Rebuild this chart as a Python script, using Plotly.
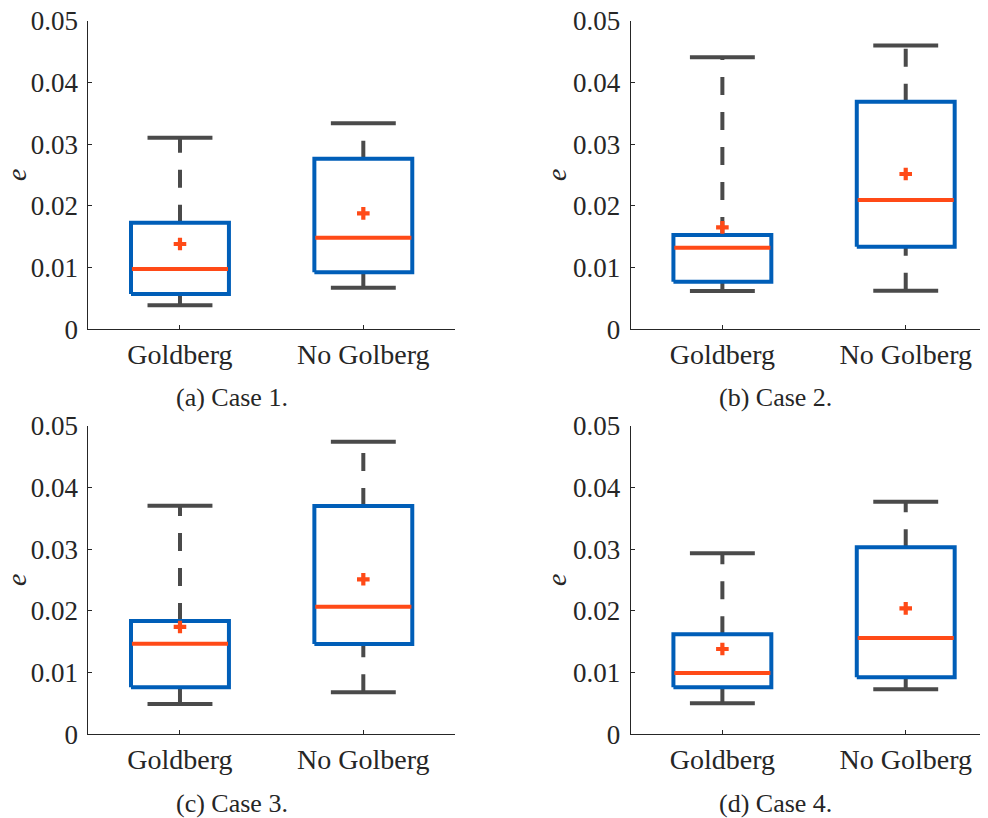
import plotly.graph_objects as go

# ---------------- data ----------------
categories = ["Goldberg", "No Golberg"]
captions = ["(a) Case 1.", "(b) Case 2.", "(c) Case 3.", "(d) Case 4."]
y_tick_vals = [0, 0.01, 0.02, 0.03, 0.04, 0.05]
y_tick_text = ["0", "0.01", "0.02", "0.03", "0.04", "0.05"]

# one row per case, one entry per category
lower_whisker = [[0.00389, 0.00675], [0.00621, 0.00626], [0.00491, 0.00680], [0.00502, 0.00729]]
q1_values = [[0.00572, 0.00923], [0.00772, 0.01339], [0.00761, 0.01463], [0.00761, 0.00923]]
median_values = [[0.00977, 0.01485], [0.01323, 0.02095], [0.01469, 0.02068], [0.00994, 0.01560]]
q3_values = [[0.01728, 0.02765], [0.01528, 0.03688], [0.01836, 0.03699], [0.01620, 0.03029]]
upper_whisker = [[0.03105, 0.03337], [0.04406, 0.04600], [0.03704, 0.04741], [0.02932, 0.03769]]
mean_values = [[0.01382, 0.01879], [0.01652, 0.02516], [0.01739, 0.02511], [0.01382, 0.02041]]

# ---------------- style ----------------
OFF = 8  # page body margin
W, H = 988 - OFF, 818 - OFF
BLUE = "#005EB8"
ORANGE = "#FF4A17"
GRAY = "#4A4A4A"
AXIS = "#262626"
FONT = "Times New Roman"

BOX_HALF = 0.267
CAP_HALF = 0.177
MED_HALF = 0.262

# panel pixel boxes in reference image coords: (x0, x1, ytop, ybottom)
panels = [
    (88.3, 455.0, 20.7, 329.3),
    (630.7, 988.0, 20.7, 329.3),
    (88.3, 455.0, 425.7, 734.3),
    (630.7, 988.0, 425.7, 734.3),
]
PX_PER_UNIT = (455.0 - 88.3) / 2.0

caption_pos = [(232, 397), (775, 397), (232, 803), (775, 803)]
ylabel_pos = [(16, 175), (556, 175), (16, 580), (556, 580)]


def fx(px):
    return (px - OFF) / W


def fy(py):
    return 1 - (py - OFF) / H


fig = go.Figure()
layout = dict(
    width=W, height=H,
    margin=dict(l=0, r=0, t=0, b=0, pad=0, autoexpand=False),
    paper_bgcolor="white", plot_bgcolor="white",
    showlegend=False,
    font=dict(family=FONT, color=AXIS),
    annotations=[],
)

for p, (x0, x1, yt, yb) in enumerate(panels):
    suffix = "" if p == 0 else str(p + 1)
    xa, ya = "x" + suffix, "y" + suffix
    xmax = 0.5 + (x1 - x0) / PX_PER_UNIT
    layout["xaxis" + suffix] = dict(
        domain=[fx(x0), fx(x1)], anchor=ya, range=[0.5, xmax],
        tickvals=[1, 2], ticktext=categories,
        ticks="inside", ticklen=4, tickwidth=1, tickcolor=AXIS,
        showline=True, linecolor=AXIS, linewidth=1,
        showgrid=False, zeroline=False, automargin=False,
        tickfont=dict(family=FONT, size=28, color=AXIS),
        ticklabeloverflow="allow",
        fixedrange=True,
    )
    layout["yaxis" + suffix] = dict(
        domain=[fy(yb), fy(yt)], anchor=xa, range=[0, 0.05],
        tickvals=y_tick_vals, ticktext=y_tick_text,
        ticks="inside", ticklen=4, tickwidth=1, tickcolor=AXIS,
        showline=True, linecolor=AXIS, linewidth=1,
        showgrid=False, zeroline=False, automargin=False,
        tickfont=dict(family=FONT, size=27, color=AXIS),
        ticklabelstandoff=4, ticklabeloverflow="allow",
        fixedrange=True,
    )
    for c in range(len(categories)):
        xc = c + 1
        lw, q1, md, q3, uw, mn = (lower_whisker[p][c], q1_values[p][c], median_values[p][c],
                                  q3_values[p][c], upper_whisker[p][c], mean_values[p][c])
        for ys in ([q3, uw], [lw, q1]):
            fig.add_trace(go.Scatter(x=[xc, xc], y=ys, mode="lines", xaxis=xa, yaxis=ya,
                                     line=dict(color=GRAY, width=4, dash="18px,17px"),
                                     hoverinfo="skip"))
        for yv in (uw, lw):
            fig.add_trace(go.Scatter(x=[xc - CAP_HALF, xc + CAP_HALF], y=[yv, yv], mode="lines",
                                     xaxis=xa, yaxis=ya, line=dict(color=GRAY, width=4),
                                     hoverinfo="skip"))
        fig.add_trace(go.Scatter(
            x=[xc - BOX_HALF, xc + BOX_HALF, xc + BOX_HALF, xc - BOX_HALF, xc - BOX_HALF],
            y=[q1, q1, q3, q3, q1], mode="lines", xaxis=xa, yaxis=ya,
            line=dict(color=BLUE, width=4), hoverinfo="skip"))
        fig.add_trace(go.Scatter(x=[xc - MED_HALF, xc + MED_HALF], y=[md, md], mode="lines",
                                 xaxis=xa, yaxis=ya, line=dict(color=ORANGE, width=4),
                                 hoverinfo="skip"))
        fig.add_trace(go.Scatter(x=[xc], y=[mn], mode="markers", xaxis=xa, yaxis=ya,
                                 marker=dict(symbol="cross", size=10.5, color=ORANGE,
                                             line=dict(width=0)),
                                 hoverinfo="skip"))

    cx, cy = caption_pos[p]
    layout["annotations"].append(dict(
        x=fx(cx), y=fy(cy), xref="paper", yref="paper", text=captions[p],
        showarrow=False, xanchor="center", yanchor="middle",
        font=dict(family=FONT, size=26, color=AXIS)))
    lx, ly = ylabel_pos[p]
    layout["annotations"].append(dict(
        x=fx(lx), y=fy(ly), xref="paper", yref="paper", text="<i>e</i>",
        showarrow=False, xanchor="center", yanchor="middle", textangle=-90,
        borderpad=0,
        font=dict(family=FONT, size=28, color=AXIS)))

fig.update_layout(**layout)
fig.write_html("out.html")
